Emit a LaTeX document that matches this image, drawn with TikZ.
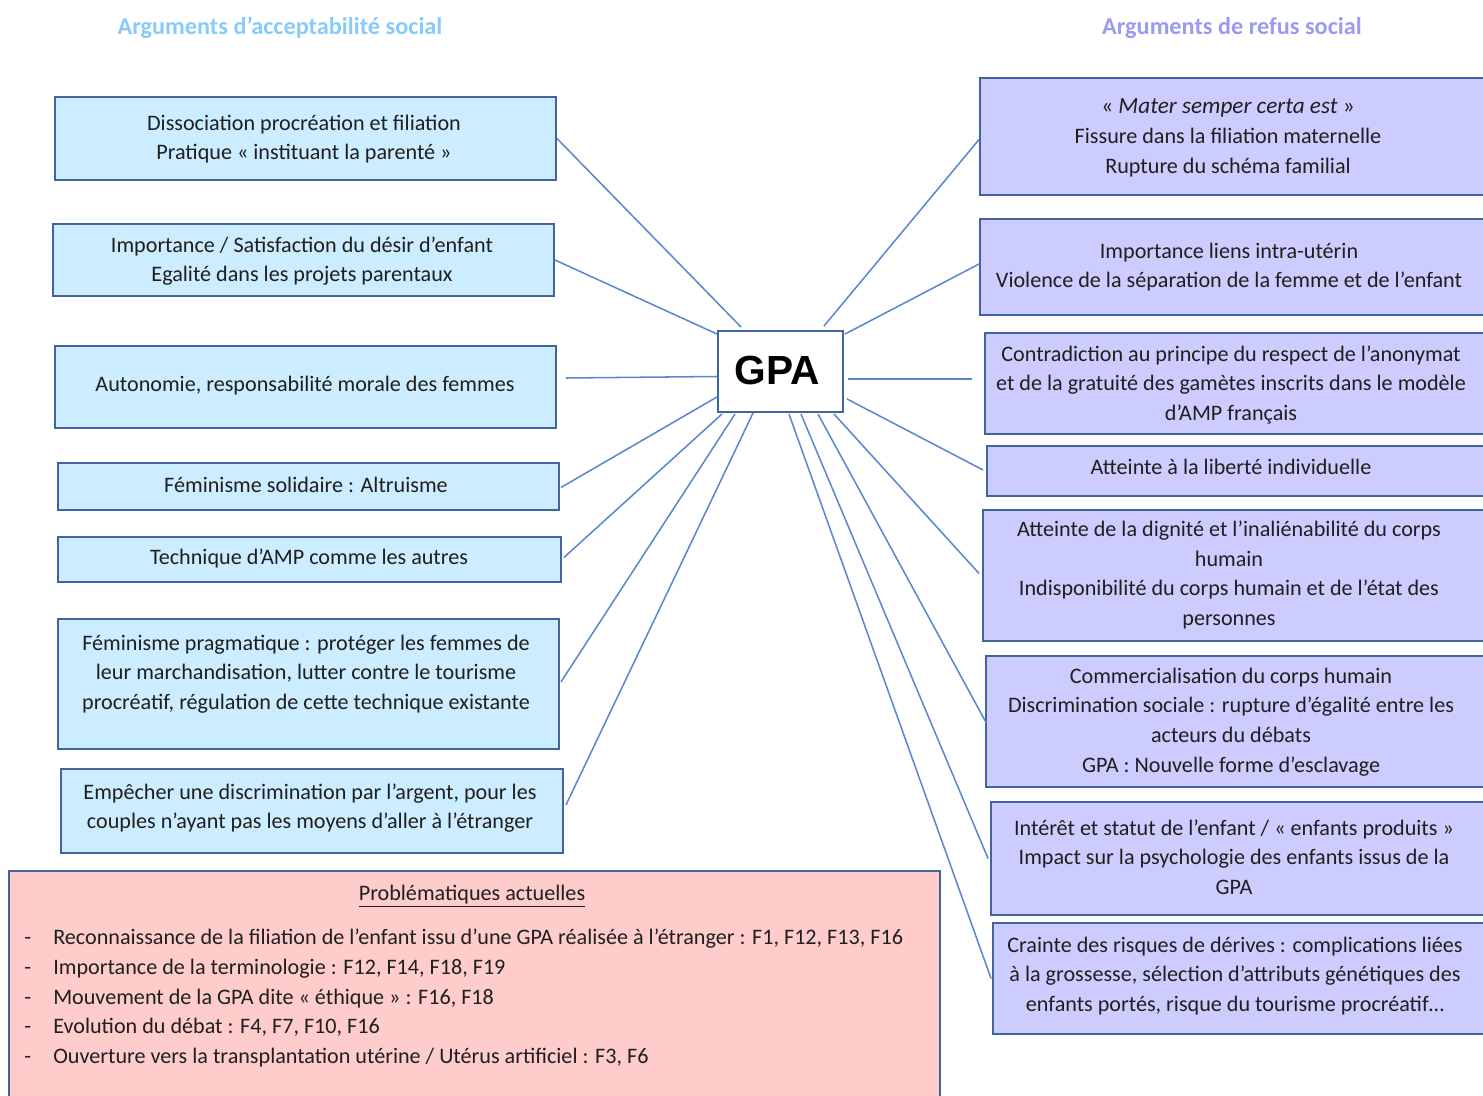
\documentclass[tikz,border=0pt]{standalone}
\usepackage{fontspec}
\setmainfont{Carlito}
\newfontfamily\gpafont{Liberation Sans}
\usetikzlibrary{calc,fit}
\definecolor{lfill}{HTML}{CCECFF}
\definecolor{rfill}{HTML}{CCCCFF}
\definecolor{pfill}{HTML}{FFCCCC}
\definecolor{bord}{HTML}{41649F}
\definecolor{linkc}{HTML}{5A87CF}
\definecolor{ltitle}{HTML}{86CBF9}
\definecolor{rtitle}{HTML}{9A9AF0}
\begin{document}
\begin{tikzpicture}[x=0.75pt,y=-0.75pt,
  box/.style={draw=bord, line width=1.4pt, inner sep=0pt},
  lbox/.style={box, fill=lfill},
  rbox/.style={box, fill=rfill},
  pbox/.style={box, fill=pfill},
  txt/.style={align=center, font=\fontsize{16.6}{22.3}\selectfont, inner sep=0pt, text=black!88},
  ttl/.style={font=\fontsize{18.2}{22}\selectfont\bfseries, inner sep=0pt},
  link/.style={draw=linkc, line width=1.15pt}]
\useasboundingbox (0,0) rectangle (1483,1095);
\clip (0,0) rectangle (1483,1095);

% titles
\node[ttl, text=ltitle] (tl) at (280,28) {Arguments d’acceptabilité social};
\node[ttl, text=rtitle] (tr) at (1232,28) {Arguments de refus social};

% central node
\node[box, fill=white, fit={(718,331) (843,412)}] (gpa) {};
\node[inner sep=0pt, font=\gpafont\fontsize{30.5}{34}\selectfont\bfseries] (gpat) at (777,370) {GPA};

% left boxes
\node[lbox, fit={(55,97) (556,180)}] (l1) {};
\node[lbox, fit={(53,224) (554,296)}] (l2) {};
\node[lbox, fit={(55,346) (556,428)}] (l3) {};
\node[lbox, fit={(58,463) (559,510)}] (l4) {};
\node[lbox, fit={(58,537) (561,582)}] (l5) {};
\node[lbox, fit={(58,619) (559,749)}] (l6) {};
\node[lbox, fit={(61,769) (563,853)}] (l7) {};

\node[txt] (l1t) at (304,139) {Dissociation procréation et filiation\\Pratique « instituant la parenté »};
\node[txt] (l2t) at (302,261) {Importance / Satisfaction du désir d’enfant\\Egalité dans les projets parentaux};
\node[txt] (l3t) at (305,386) {Autonomie, responsabilité morale des femmes};
\node[txt] (l4t) at (306,485) {Féminisme solidaire : Altruisme};
\node[txt] (l5t) at (309,558) {Technique d’AMP comme les autres};
\node[txt] (l6t) at (306,674) {Féminisme pragmatique : protéger les femmes de\\leur marchandisation, lutter contre le tourisme\\procréatif, régulation de cette technique existante};
\node[txt] (l7t) at (310,808) {Empêcher une discrimination par l’argent, pour les\\couples n’ayant pas les moyens d’aller à l’étranger};

% right boxes
\node[rbox, fit={(980,78) (1495,195)}] (r1) {};
\node[rbox, fit={(980,219) (1495,315)}] (r2) {};
\node[rbox, fit={(985,333) (1495,434)}] (r3) {};
\node[rbox, fit={(987,446) (1495,496)}] (r4) {};
\node[rbox, fit={(983,510) (1495,641)}] (r5) {};
\node[rbox, fit={(986,656) (1495,787)}] (r6) {};
\node[rbox, fit={(991,802) (1495,915)}] (r7) {};
\node[rbox, fit={(993,923) (1495,1034)}] (r8) {};

\node[txt] (r1t) at (1228,138) {{\fontsize{17.4}{22.3}\selectfont« \textit{Mater semper certa est} »}\\Fissure dans la filiation maternelle\\Rupture du schéma familial};
\node[txt] (r2t) at (1229,267) {Importance liens intra-utérin\\Violence de la séparation de la femme et de l’enfant};
\node[txt] (r3t) at (1231,385) {Contradiction au principe du respect de l’anonymat\\et de la gratuité des gamètes inscrits dans le modèle\\d’AMP français};
\node[txt] (r4t) at (1231,467) {Atteinte à la liberté individuelle};
\node[txt] (r5t) at (1229,575) {Atteinte de la dignité et l’inaliénabilité du corps\\humain\\Indisponibilité du corps humain et de l’état des\\personnes};
\node[txt] (r6t) at (1231,722) {Commercialisation du corps humain\\Discrimination sociale : rupture d’égalité entre les\\acteurs du débats\\GPA : Nouvelle forme d’esclavage};
\node[txt] (r7t) at (1234,857) {Intérêt et statut de l’enfant / « enfants produits »\\Impact sur la psychologie des enfants issus de la\\GPA};
\node[txt] (r8t) at (1235,976) {Crainte des risques de dérives : complications liées\\à la grossesse, sélection d’attributs génétiques des\\enfants portés, risque du tourisme procréatif…};

% pink box
\node[pbox, fit={(9,871) (940,1110)}] (pb) {};
\node[txt] (pbt) at (472,896) {\underline{Problématiques actuelles}};
\node[txt, align=left, anchor=west] (pbl) at (24,998) {%
\makebox[21.75pt][l]{-}Reconnaissance de la filiation de l’enfant issu d’une GPA réalisée à l’étranger : F1, F12, F13, F16\\
\makebox[21.75pt][l]{-}Importance de la terminologie : F12, F14, F18, F19\\
\makebox[21.75pt][l]{-}Mouvement de la GPA dite « éthique » : F16, F18\\
\makebox[21.75pt][l]{-}Evolution du débat : F4, F7, F10, F16\\
\makebox[21.75pt][l]{-}Ouverture vers la transplantation utérine / Utérus artificiel : F3, F6};

% left connectors
\draw[link] (l1.east) -- ($(gpa.north west)+(24,-3)$);
\draw[link] (l2.east) -- ($(gpa.north west)+(0,4)$);
\draw[link] ($(l3.east)+(9,-9)$) -- ($(gpa.west)+(0,5)$);
\draw[link] ($(l4.east)+(1,1)$) -- ($(gpa.south west)+(0,-16)$);
\draw[link] ($(l5.east)+(2,-2)$) -- ($(gpa.south west)+(5,1)$);
\draw[link] ($(l6.east)+(1,-2)$) -- ($(gpa.south west)+(18,1)$);
\draw[link] ($(l7.east)+(2,-6)$) -- ($(gpa.south west)+(36,0)$);

% right connectors
\draw[link] ($(gpa.north east)+(-20,-4)$) -- ($(r1.west)+(0,3)$);
\draw[link] ($(gpa.north east)+(1,4)$) -- ($(r2.west)+(0,-3)$);
\draw[link] ($(gpa.east)+(4,7.5)$) -- ($(r3.west)+(-12,-4.5)$);
\draw[link] ($(gpa.south east)+(3,-14)$) -- ($(r4.west)+(-3,-1)$);
\draw[link] ($(gpa.south east)+(-10,1)$) -- ($(r5.west)+(-3,-2)$);
\draw[link] ($(gpa.south east)+(-26,1)$) -- ($(r6.west)+(1,1)$);
\draw[link] ($(gpa.south east)+(-43,1)$) -- ($(r7.west)+(-2,0)$);
\draw[link] ($(gpa.south east)+(-55,1)$) -- ($(r8.west)+(-1,0)$);
\end{tikzpicture}
\end{document}
